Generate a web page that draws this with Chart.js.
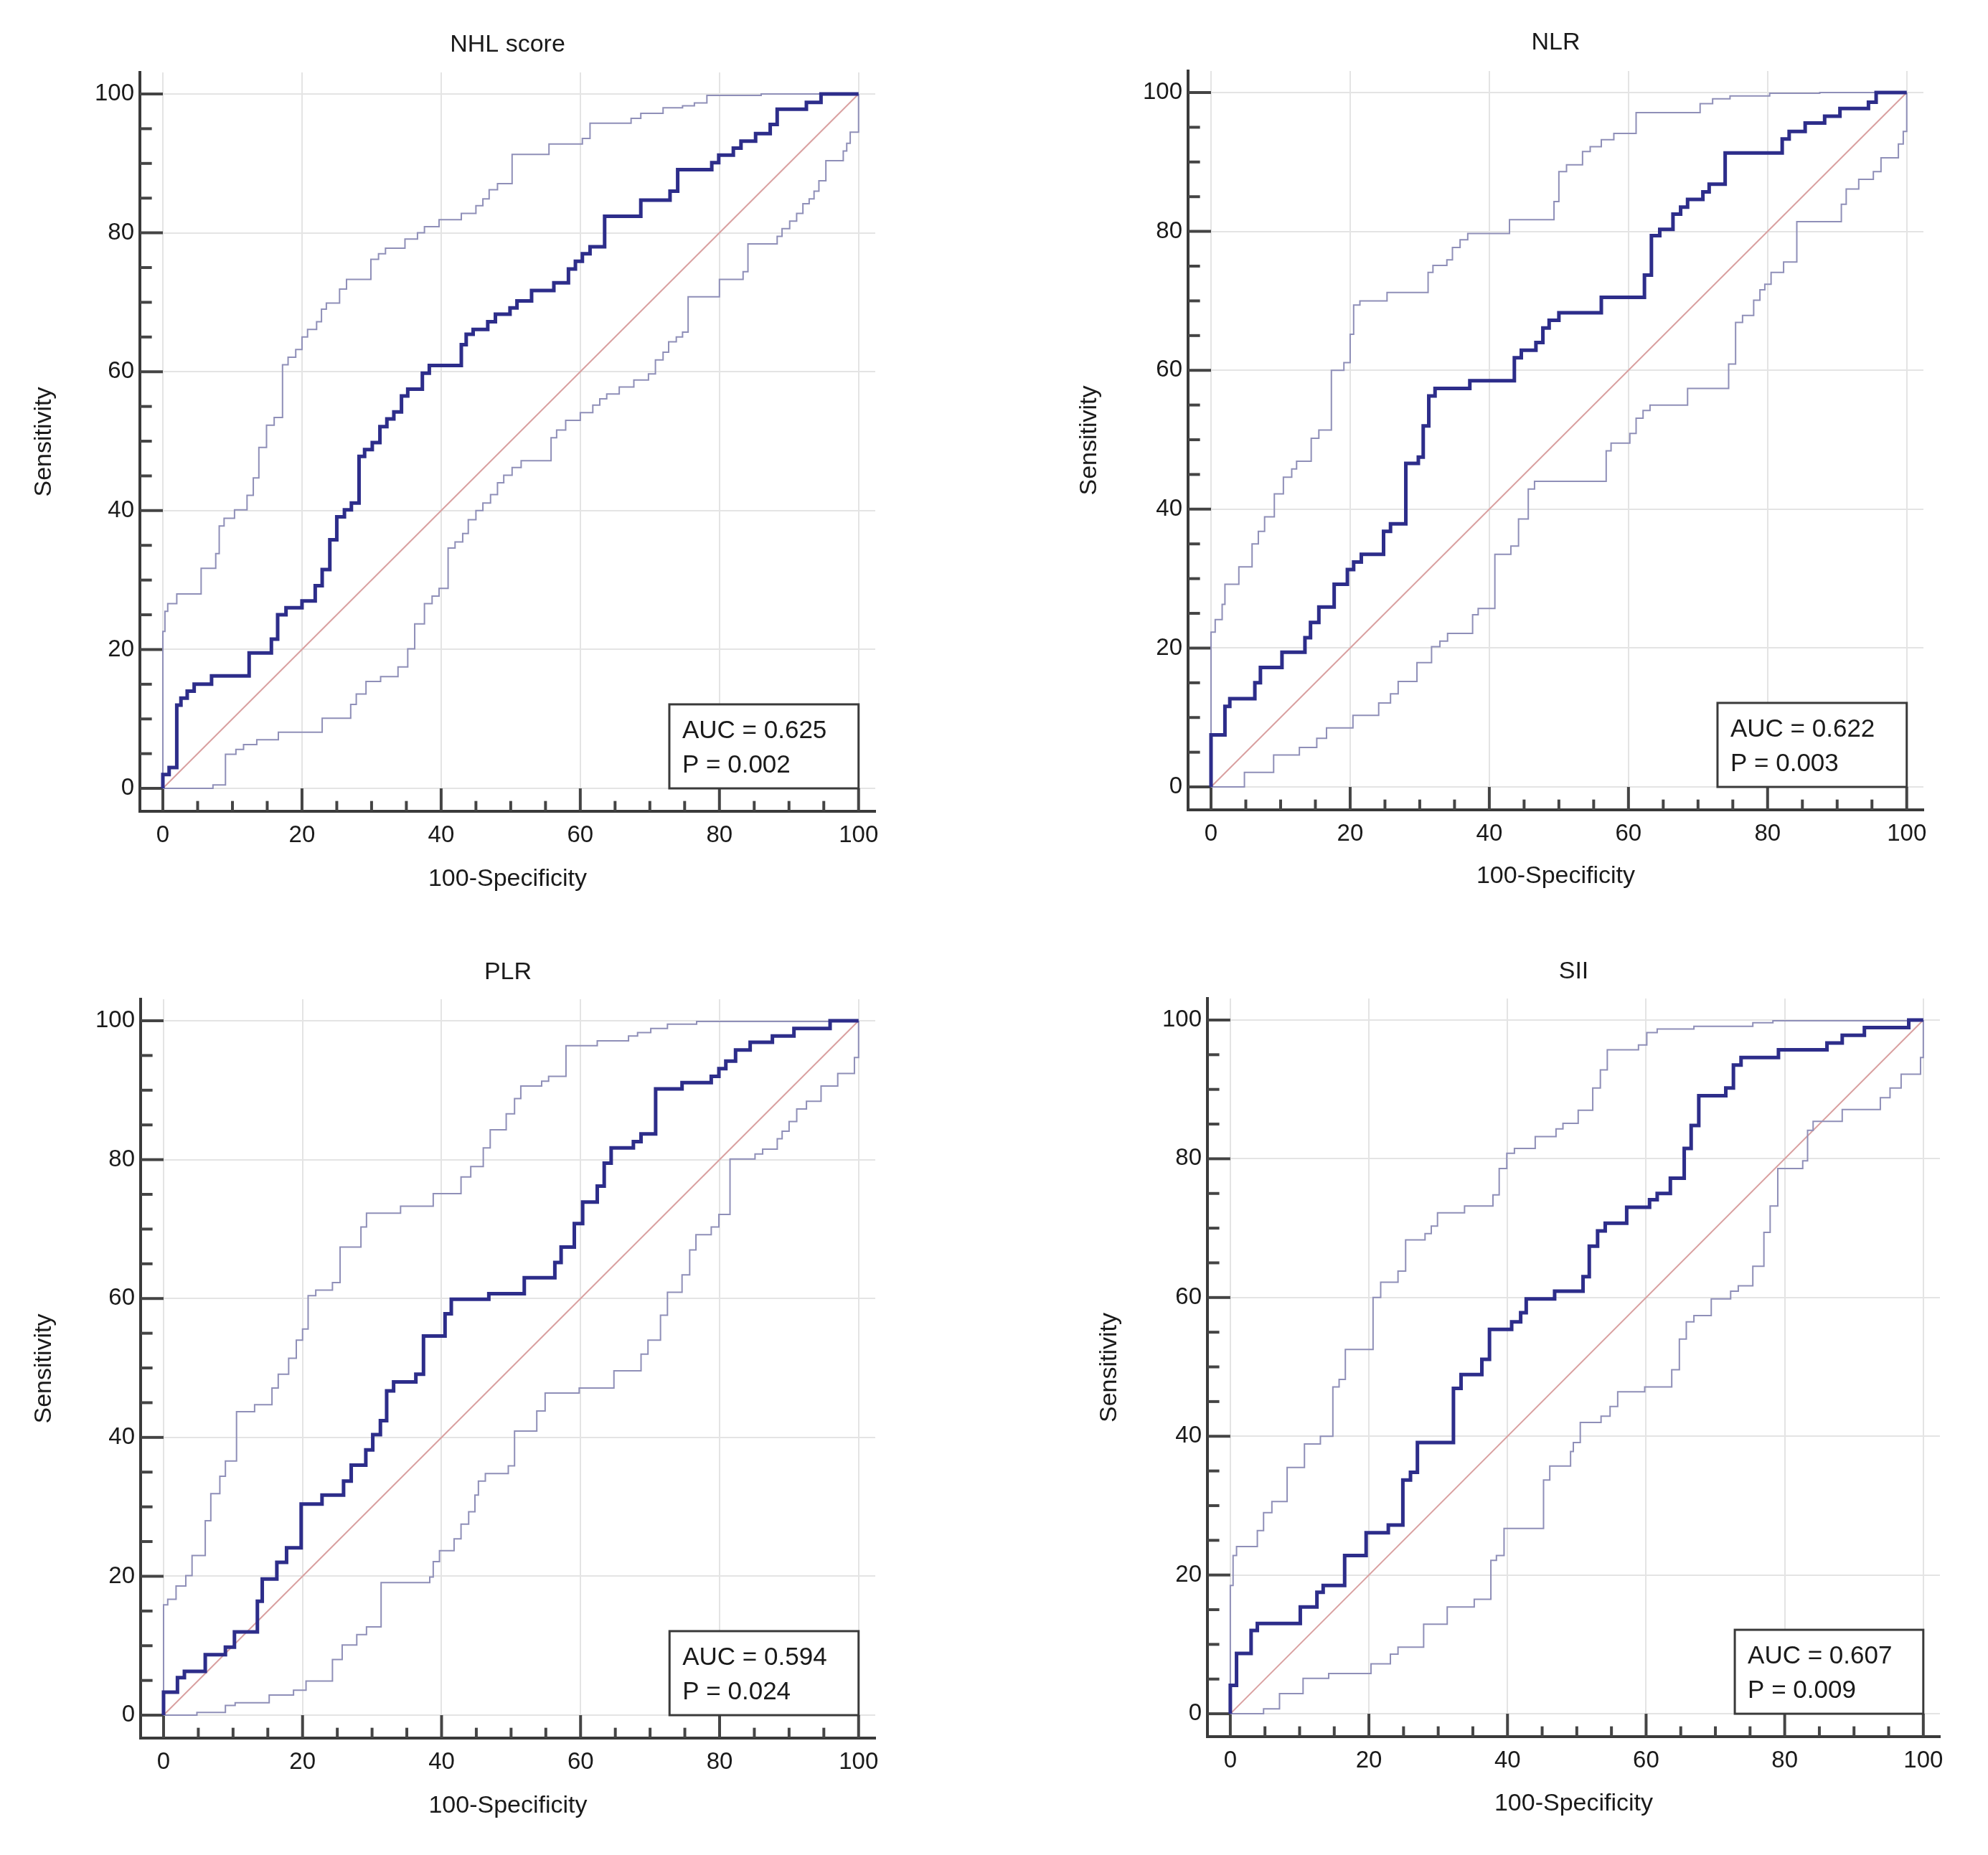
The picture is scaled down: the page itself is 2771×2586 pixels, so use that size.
<!DOCTYPE html>
<html><head><meta charset="utf-8">
<script src="https://cdn.jsdelivr.net/npm/chart.js@4.4.0/dist/chart.umd.min.js"></script>
<style>
html,body{margin:0;padding:0;background:#fff;}
body{width:2771px;height:2586px;position:relative;overflow:hidden;}
canvas{position:absolute;}
</style></head><body>
<canvas id="c0"></canvas><canvas id="c1"></canvas><canvas id="c2"></canvas><canvas id="c3"></canvas>
<script>
// ---------------- DATA ----------------
const PANEL_TITLES = ['NHL score', 'NLR', 'PLR', 'SII'];
const AUC_VALUES = ['0.625', '0.622', '0.594', '0.607'];
const P_VALUES = ['0.002', '0.003', '0.024', '0.009'];
const X_TITLE = '100-Specificity';
const Y_TITLE = 'Sensitivity';
const TICKS = [0, 20, 40, 60, 80, 100];
const MINOR_TICKS = [0, 5, 10, 15, 20, 25, 30, 35, 40, 45, 50, 55, 60, 65, 70, 75, 80, 85, 90, 95, 100];
const DIAG_X = [0, 100];
const DIAG_Y = [0, 100];

// NHL score
const NHL_ROC_X = [0,0,0.9,2,2.6,3.5,4.5,7,12.4,15.6,16.5,17.7,20,21.9,22.9,24,25,26.1,27.1,28.2,29,30.1,31.2,32.2,33.2,34.3,35.2,37.3,38.3,42.9,43.6,44.6,46.7,47.8,49.9,50.9,53,56.2,58.3,59.3,60.3,61.4,63.5,68.7,72.9,74,78.9,79.9,82,83.1,85.2,87.3,88.3,92.5,94.6,100];
const NHL_ROC_Y = [0,2,3,12,13,14,15,16.2,19.5,21.5,25,26,27,29.2,31.5,35.8,39.1,40.1,41.1,47.8,48.8,49.8,52.1,53.2,54.2,56.5,57.5,59.8,60.9,63.9,65.4,66.1,67.2,68.3,69.2,70.2,71.7,72.8,74.8,75.9,77,78,82.4,84.7,86,89.1,90.1,91.2,92.2,93.2,94.3,95.6,97.8,98.8,100,100];
const NHL_UP_X = [0,0,0.3,0.7,2,5.5,7.6,8.1,8.8,10.3,12.1,13,13.8,14.9,16,17.2,18,19.1,20,20.8,22.1,22.8,23.5,25.4,26.4,29.9,31,32,34.8,36.6,37.6,39.7,42.9,45,46,46.9,48.1,50.2,55.5,60.3,61.4,67.3,68.7,71.9,74.7,76.4,78.2,86,100];
const NHL_UP_Y = [0,22.6,25.5,26.6,28,31.7,33.8,37.8,38.9,40.1,42.2,44.7,49.1,52.3,53.4,61,62.1,63.2,65,66.1,67.2,69,69.9,71.9,73.3,76.2,77,77.8,79.1,80,80.9,81.9,82.8,83.9,84.9,86.2,87.1,91.3,92.8,93.6,95.8,96.5,97.2,98,98.3,98.7,99.8,100,100];
const NHL_LO_X = [0,7.2,9,10.5,11.6,13.5,16.6,22.9,27,27.8,29.2,31.3,33.8,35.2,36.2,37.6,38.7,39.7,41,42,43.1,43.9,45,46,47.1,48.1,49,50.2,51.5,55.8,56.6,57.9,60,61.8,62.8,63.8,65.6,67.7,69.8,70.8,71.9,72.7,73.8,74.7,75.5,80,83.4,84.1,88.3,89,90.1,91.1,92,92.9,93.6,94.3,95.3,97.8,98.3,98.8,100];
const NHL_LO_Y = [0,0.5,4.9,5.6,6.3,7,8.1,10.1,12.1,13.6,15.4,16.1,17.5,20.1,23.7,26.6,27.7,28.8,34.6,35.5,36.7,38.7,40,41.1,42.3,44,45.1,46.2,47.2,50.5,51.6,53,54.1,55.2,56.1,56.8,57.8,58.8,59.7,61.7,62.8,64.3,65,65.7,70.8,73.3,74.4,78.4,79.5,80.6,81.7,82.8,84.2,84.9,86,87.5,90.4,91.8,92.9,94.5,100];

// NLR
const NLR_ROC_X = [0,0,2,2.7,6.3,7.1,10.2,13.5,14.3,15.5,17.7,19.6,20.5,21.6,24.8,25.8,28,29.8,30.5,31.3,32.2,37.2,43.6,44.6,46.7,47.7,48.6,50,56.1,62.3,63.3,64.5,66.4,67.5,68.5,70.7,71.6,73.9,82.1,83.1,85.4,88.2,90.4,94.5,95.6,100];
const NLR_ROC_Y = [0,7.5,11.6,12.7,15,17.2,19.4,21.5,23.7,25.9,29.2,31.3,32.4,33.5,36.8,37.9,46.6,47.5,52,56.3,57.4,58.5,61.8,62.9,64,66.1,67.2,68.3,70.5,73.7,79.4,80.3,82.5,83.5,84.6,85.7,86.8,91.3,93.3,94.4,95.6,96.6,97.7,98.6,100,100];
const NLR_UP_X = [0,0,0.6,1.6,2,4,5.9,6.8,7.7,9.1,10.4,11.6,12.3,14.4,15.5,17.3,19.1,20,20.5,21.4,25.3,31.2,31.9,33.9,34.7,35.8,36.9,42.9,49.3,50,51.1,53.4,54.5,56.1,57.9,61.1,70.3,72.1,74.6,80.3,87.5,100];
const NLR_UP_Y = [0,22.3,24.1,26.3,29.2,31.7,35,36.8,38.9,42.2,44.6,45.8,46.9,50.2,51.4,60,61.1,65.2,69.4,70,71.2,74.1,75.1,75.9,77.7,78.8,79.7,81.7,84.3,88.6,89.6,91.5,92.2,93.2,94.1,97.1,98.4,99.1,99.5,99.9,100,100];
const NLR_LO_X = [0,4.8,9,12.7,15.2,16.6,20.4,24.1,25.8,26.9,29.6,31.7,32.9,34,37.6,38.4,40.8,43.1,44.2,45.6,46.5,56.8,57.5,60.2,61.1,62.1,63.1,68.5,74.4,75.4,76.4,78,78.9,79.6,80.5,82.3,84.2,90.6,91.3,93.1,95.2,96.3,98.8,99.5,100];
const NLR_LO_Y = [0,2.1,4.6,5.7,7,8.5,10.3,12.1,13.4,15.2,17.9,20.2,21,22.1,24.8,25.7,33.5,34.7,38.6,42.9,44,48.4,49.5,50.9,53.1,54.2,55,57.4,60.9,66.9,67.9,70.1,71.6,72.4,74.1,75.6,81.4,83.9,86.1,87.5,88.6,90.6,92.6,94.4,100];

// PLR
const PLR_ROC_X = [0,0,2,3,6,8.9,10.2,13.5,14.2,16.3,17.7,19.8,22.8,25.9,27,29.1,30.1,31.2,32.1,33.1,36.3,37.4,40.5,41.4,46.8,51.9,56.3,57.2,59.1,60.3,62.4,63.4,64.4,67.6,68.7,70.8,74.6,78.8,79.9,80.9,82.3,84.4,87.6,90.7,95.9,100];
const PLR_ROC_Y = [0,3.3,5.4,6.3,8.7,9.8,12,16.4,19.6,22,24.1,30.4,31.7,33.7,36,38.2,40.4,42.4,46.7,48,49.1,54.6,57.8,59.9,60.7,63,65.2,67.4,70.8,73.9,76.2,79.5,81.7,82.6,83.7,90.2,91.1,92,93.1,94.2,95.8,96.9,97.8,98.9,100,100];
const PLR_UP_X = [0,0,0.6,1.8,3.2,4.1,6,6.8,8.1,8.9,10.5,13.1,15.6,16.5,18,19.1,20,20.8,21.9,24.3,25.4,28.4,29.2,34.1,38.8,42.8,44.2,46,47,49.3,50.5,51.4,54.4,55.4,57.9,62.4,66.9,68.2,70.1,72.5,76.7,100];
const PLR_UP_Y = [0,15.9,16.7,18.6,20.1,23,28,31.9,34.4,36.6,43.7,44.7,47.1,49.1,51.4,54,55.6,60.4,61.2,62.3,67.4,70.3,72.3,73.3,75.1,77.5,79,81.7,84.3,86.6,88.8,90.6,91.3,92,96.4,97.1,97.8,98.3,98.9,99.5,99.9,100];
const PLR_LO_X = [0,4.8,8.9,10.3,15.2,18.7,20.5,24.3,25.7,27.8,29.2,31.3,38.3,38.8,39.7,41.8,42.8,43.9,44.8,45.3,46.3,49.6,50.5,53.7,54.9,59.8,64.8,68.7,69.7,71.5,72.5,74.6,75.7,76.6,78.8,79.9,81.5,85.1,86.2,88.3,89,90,91.1,92.5,94.6,97,99.4,100];
const PLR_LO_Y = [0,0.4,1.4,1.8,2.9,3.6,4.9,8,10.1,11.6,12.7,19.1,19.9,22.1,23.7,25.4,27.5,29.3,31.7,33.7,34.8,35.9,40.9,43.8,46.4,47.1,49.6,52,54,57.6,60.9,63.4,67,69.2,70.3,72.1,80.1,80.8,81.5,83,84.1,85.5,87.3,88.4,90.6,92.4,94.7,100];

// SII
const SII_ROC_X = [0,0,0.9,3,3.9,10.1,12.5,13.4,16.5,19.6,22.8,24.9,26,27,32.2,33.3,36.3,37.4,40.6,41.9,42.7,46.8,50.9,51.8,53,54.1,57.2,60.5,61.6,63.5,65.5,66.5,67.6,71.5,72.6,73.7,79.1,86.1,88.3,91.5,97.9,100];
const SII_ROC_Y = [0,4.1,8.7,12,13,15.4,17.5,18.5,22.8,26.1,27.2,33.7,34.8,39.1,46.9,48.9,51.1,55.4,56.5,57.8,59.8,60.9,63,67.4,69.6,70.7,73,74.1,75,77.2,81.5,84.8,89.1,90.2,93.5,94.6,95.7,96.7,97.8,98.9,100,100];
const SII_UP_X = [0,0,0.4,0.9,3.9,4.8,6,8.2,10.7,13,14.8,15.7,16.6,20.6,21.7,24.2,25.3,28.1,29,29.9,33.8,37.9,38.8,39.9,41,44,47,48,50.2,52.3,53.4,54.4,58.9,60.1,61.6,66.9,75.4,78.3,100];
const SII_UP_Y = [0,18.5,22.8,24.1,26.4,29,30.6,35.5,38.9,40,47.1,48.2,52.5,60,62.2,63.8,68.3,69.2,70.3,72.2,73.2,74.8,78.6,80.8,81.5,83.2,84.3,85.1,87,90.2,92.8,95.7,96.4,98.2,98.7,99.1,99.6,99.9,100];
const SII_LO_X = [0,4.8,7.1,10.5,14.2,20.3,23.1,24.2,27.9,31.3,35.2,37.6,38.4,39.5,45.2,46.1,49.1,49.5,50.5,53.5,54.8,55.9,59.8,63.7,64.8,65.8,66.9,69.4,72.2,73.3,75.4,77,77.9,79,82.6,83.3,84.1,88.3,93.8,95.2,96.8,99.6,100];
const SII_LO_Y = [0,0.7,2.9,5.1,5.8,7.2,8.6,9.6,12.9,15.4,16.5,22.1,22.8,26.7,33.7,35.7,37.8,39.1,42,42.9,44.3,46.4,47.1,49.6,54,56.5,57.4,59.8,60.9,61.7,64.5,69.4,73.2,78.6,79.7,84.1,85.4,87.1,88.8,90.2,92.2,94.6,100];

// AUC box extent (data units)
const BOX_X = [72.8, 100];
const BOX_Y = [0, 12.1];

// ---------------- LAYOUT / STYLE ----------------
const FONT = "'Liberation Sans', Arial, Helvetica, sans-serif";
const TEXT = '#1a1a1a';
const LH = 1.2, TSIZE = 34, HALF = TSIZE * LH / 2;
const X_RANGE = [-3.3, 102.4];
const Y_RANGE = [-3.3, 103.1];
const LAYOUT = [
  {canvas: [0, 0, 1385, 1293],    area: [195, 101, 1220, 1131],   titleY: 63,   xTitleY: 1226, yTitleX: 62},
  {canvas: [1385, 0, 1386, 1293], area: [1656, 99, 2681, 1129],   titleY: 60,   xTitleY: 1222, yTitleX: 1519},
  {canvas: [0, 1293, 1385, 1293], area: [196, 1393, 1220, 2423],  titleY: 1356, xTitleY: 2518, yTitleX: 62},
  {canvas: [1385, 1293, 1386, 1293], area: [1683, 1392, 2704, 2421], titleY: 1355, xTitleY: 2515, yTitleX: 1547}
];

const SERIES = [
  [NHL_ROC_X, NHL_ROC_Y, NHL_UP_X, NHL_UP_Y, NHL_LO_X, NHL_LO_Y],
  [NLR_ROC_X, NLR_ROC_Y, NLR_UP_X, NLR_UP_Y, NLR_LO_X, NLR_LO_Y],
  [PLR_ROC_X, PLR_ROC_Y, PLR_UP_X, PLR_UP_Y, PLR_LO_X, PLR_LO_Y],
  [SII_ROC_X, SII_ROC_Y, SII_UP_X, SII_UP_Y, SII_LO_X, SII_LO_Y]
];

const pts = (xs, ys) => xs.map((v, i) => ({x: v, y: ys[i]}));

const innerTicks = {
  id: 'innerTicks',
  beforeDatasetsDraw(chart) {
    const {ctx, chartArea: a, scales: {x, y}} = chart;
    const majX = x.getPixelForValue(0) - a.left;
    const majY = a.bottom - y.getPixelForValue(0);
    ctx.save();
    ctx.strokeStyle = '#444';
    ctx.lineWidth = 4;
    MINOR_TICKS.forEach(v => {
      const major = TICKS.includes(v);
      const py = y.getPixelForValue(v);
      ctx.beginPath(); ctx.moveTo(a.left, py); ctx.lineTo(a.left + (major ? majX : majX * 0.52), py); ctx.stroke();
      const px = x.getPixelForValue(v);
      ctx.beginPath(); ctx.moveTo(px, a.bottom); ctx.lineTo(px, a.bottom - (major ? majY : majY * 0.45)); ctx.stroke();
    });
    ctx.restore();
  }
};

const aucBox = {
  id: 'aucBox',
  afterDatasetsDraw(chart) {
    const {ctx, scales: {x, y}} = chart;
    const idx = chart.options.plugins.aucBox.index;
    const l = x.getPixelForValue(BOX_X[0]), r = x.getPixelForValue(BOX_X[1]);
    const t = y.getPixelForValue(BOX_Y[1]), b = y.getPixelForValue(BOX_Y[0]);
    ctx.save();
    ctx.fillStyle = '#fff';
    ctx.fillRect(l, t, r - l, b - t);
    ctx.strokeStyle = '#3a3a3a';
    ctx.lineWidth = 3;
    ctx.strokeRect(l, t, r - l, b - t);
    ctx.fillStyle = TEXT;
    ctx.font = '35px ' + FONT;
    ctx.textBaseline = 'alphabetic';
    ctx.textAlign = 'left';
    const h = b - t;
    ctx.fillText('AUC = ' + AUC_VALUES[idx], l + 18, t + h * 0.40);
    ctx.fillText('P = ' + P_VALUES[idx], l + 18, t + h * 0.81);
    ctx.restore();
  }
};

LAYOUT.forEach((L, i) => {
  const cv = document.getElementById('c' + i);
  const [cl, ct, cw, ch] = L.canvas;
  const [aL, aT, aR, aB] = L.area;
  cv.width = cw; cv.height = ch;
  cv.style.left = cl + 'px'; cv.style.top = ct + 'px';
  cv.style.width = cw + 'px'; cv.style.height = ch + 'px';
  const yW = aL - (L.yTitleX - HALF);
  const xH = (L.xTitleY + HALF) - aB;
  const s = SERIES[i];
  new Chart(cv, {
    type: 'line',
    data: {
      datasets: [
        {data: pts(s[0], s[1]), borderColor: '#2d2d8a', borderWidth: 5, stepped: true, pointRadius: 0, order: 0},
        {data: pts(s[2], s[3]), borderColor: '#8f8fb8', borderWidth: 2, stepped: true, pointRadius: 0, order: 1},
        {data: pts(s[4], s[5]), borderColor: '#8f8fb8', borderWidth: 2, stepped: true, pointRadius: 0, order: 1},
        {data: pts(DIAG_X, DIAG_Y), borderColor: '#d9a0a0', borderWidth: 2, pointRadius: 0, order: 2}
      ]
    },
    options: {
      responsive: false,
      maintainAspectRatio: false,
      devicePixelRatio: 1,
      animation: false,
      layout: {padding: {
        left: L.yTitleX - HALF - cl,
        top: L.titleY - HALF - ct,
        right: (cl + cw) - aR,
        bottom: (ct + ch) - (L.xTitleY + HALF)
      }},
      plugins: {
        legend: {display: false},
        tooltip: {enabled: false},
        aucBox: {index: i},
        title: {
          display: true, text: PANEL_TITLES[i], fullSize: false, color: TEXT,
          font: {family: FONT, size: TSIZE, weight: 'normal', lineHeight: LH},
          padding: {top: 0, bottom: aT - (L.titleY + HALF)}
        }
      },
      scales: {
        x: {
          type: 'linear', min: X_RANGE[0], max: X_RANGE[1],
          afterBuildTicks: sc => { sc.ticks = TICKS.map(v => ({value: v})); },
          afterFit: sc => { sc.height = xH; },
          grid: {color: '#e4e4e4', lineWidth: 2, drawTicks: false},
          border: {display: true, color: '#3a3a3a', width: 4},
          ticks: {font: {family: FONT, size: 33}, color: TEXT, padding: 14, maxRotation: 0, autoSkip: false},
          title: {display: true, text: X_TITLE, color: TEXT, font: {family: FONT, size: TSIZE, lineHeight: LH}, padding: 0}
        },
        y: {
          type: 'linear', min: Y_RANGE[0], max: Y_RANGE[1],
          afterBuildTicks: sc => { sc.ticks = TICKS.map(v => ({value: v})); },
          afterFit: sc => { sc.width = yW; },
          grid: {color: '#e4e4e4', lineWidth: 2, drawTicks: false},
          border: {display: true, color: '#3a3a3a', width: 4},
          ticks: {font: {family: FONT, size: 33}, color: TEXT, padding: 8, autoSkip: false},
          title: {display: true, text: Y_TITLE, color: TEXT, font: {family: FONT, size: TSIZE, lineHeight: LH}, padding: 0}
        }
      }
    },
    plugins: [innerTicks, aucBox]
  });
});
</script>
</body></html>
